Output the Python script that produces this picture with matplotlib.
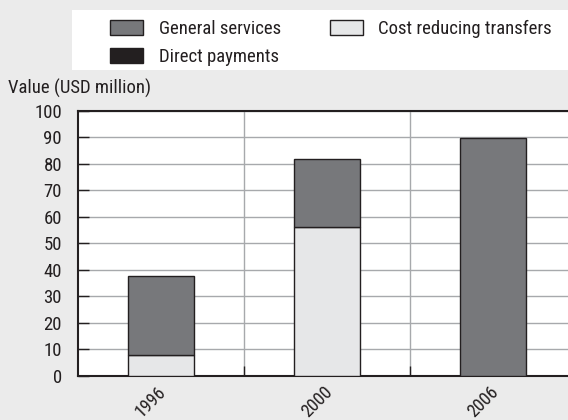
import matplotlib
matplotlib.use("Agg")
import matplotlib.pyplot as plt
import matplotlib.font_manager as fm
import matplotlib.transforms as mtransforms
from matplotlib.patches import Rectangle, Patch
import numpy as np

years = ["1996", "2000", "2006"]
cost_reducing = [7.8, 56.1, 0.0]
general_services = [29.8, 25.8, 89.9]
direct_payments = [0.0, 0.0, 0.0]

# pick a condensed sans face when one is installed
font_names = {f.name for f in fm.fontManager.ttflist}
condensed = [n for n in ["Liberation Sans Narrow", "Roboto Condensed", "Open Sans Condensed",
                         "Arial Narrow", "Noto Sans Condensed"] if n in font_names]
dejavu_cond = any("DejaVuSansCondensed" in f.fname for f in fm.fontManager.ttflist)
if condensed:
    plt.rcParams['font.family'] = [condensed[0], 'DejaVu Sans']
    fs = 13.5
elif dejavu_cond:
    plt.rcParams['font.family'] = ['DejaVu Sans']
    plt.rcParams['font.stretch'] = 'condensed'
    fs = 12
else:
    plt.rcParams['font.family'] = ['Liberation Sans', 'DejaVu Sans']
    fs = 10.5

c_gs = "#77787b"
c_crt = "#e6e7e8"
c_dp = "#231f20"
edge = "#231f20"
bg = "#ebebeb"
txt = "#231f20"

fig = plt.figure(figsize=(5.68, 4.2), dpi=100, facecolor=bg)
ax = fig.add_axes([78 / 568, 1 - 375.7 / 420, (576 - 78) / 568, (375.7 - 111) / 420])
ax.set_facecolor("white")

x = np.arange(len(years))
w = 0.4
ax.bar(x, cost_reducing, w, color=c_crt, edgecolor=edge, linewidth=1, zorder=3)
ax.bar(x, general_services, w, bottom=cost_reducing, color=c_gs, edgecolor=edge, linewidth=1, zorder=3)
bottom2 = np.array(cost_reducing) + np.array(general_services)
ax.bar(x, direct_payments, w, bottom=bottom2, color=c_dp, edgecolor=edge, linewidth=0, zorder=3)

ax.set_xlim(-0.5, 2.5)
ax.set_ylim(0, 100)
ax.set_yticks(np.arange(0, 101, 10))
ax.set_xticks(x)
ax.set_xticklabels(years, rotation=45, fontsize=fs - 0.5, color=txt)
ax.set_xticks([0.5, 1.5], minor=True)
ax.tick_params(axis="x", which="major", length=0, pad=5)
ax.tick_params(axis="x", which="minor", direction="in", length=7, color=edge, width=1)
ax.tick_params(axis="y", direction="in", length=8, color=edge, width=1, labelsize=fs,
               labelcolor=txt, pad=11.5)
shift = mtransforms.ScaledTranslation(-10 / 100, 0, fig.dpi_scale_trans)
for lbl in ax.get_xticklabels():
    lbl.set_ha("center")
    lbl.set_va("top")
    lbl.set_transform(lbl.get_transform() + shift)

ax.grid(axis="y", color="#a7a9ac", linewidth=1, zorder=0)
ax.grid(axis="x", which="minor", color="#a7a9ac", linewidth=1, zorder=0)
ax.set_axisbelow(True)

for side in ["left", "top", "bottom"]:
    ax.spines[side].set_color(edge)
    ax.spines[side].set_linewidth(1.5)
ax.spines["right"].set_visible(False)

fig.text(8 / 568, 1 - 88.5 / 420, "Value (USD million)", fontsize=fs, color=txt,
         ha="left", va="center")

# legend panel
fig.patches.append(Rectangle((72 / 568, 1 - 70 / 420), 1, 60 / 420, transform=fig.transFigure,
                             facecolor="white", edgecolor="none", zorder=0))
handles = [Patch(facecolor=c_gs, edgecolor=edge, linewidth=1),
           Patch(facecolor=c_dp, edgecolor=edge, linewidth=1),
           Patch(facecolor=c_crt, edgecolor=edge, linewidth=1)]
labels = ["General services", "Direct payments", "Cost reducing transfers"]
fpx = fs * 100 / 72
fig.legend(handles, labels, ncol=2, frameon=False, fontsize=fs,
           loc="upper left", bbox_to_anchor=(101 / 568, 1 - 11 / 420),
           handlelength=33 / fpx, handleheight=16 / fpx, handletextpad=16 / fpx,
           columnspacing=48 / fpx, labelspacing=(28 - fpx) / fpx, borderpad=0,
           labelcolor=txt)

fig.savefig("out.png", dpi=100, facecolor=bg)
